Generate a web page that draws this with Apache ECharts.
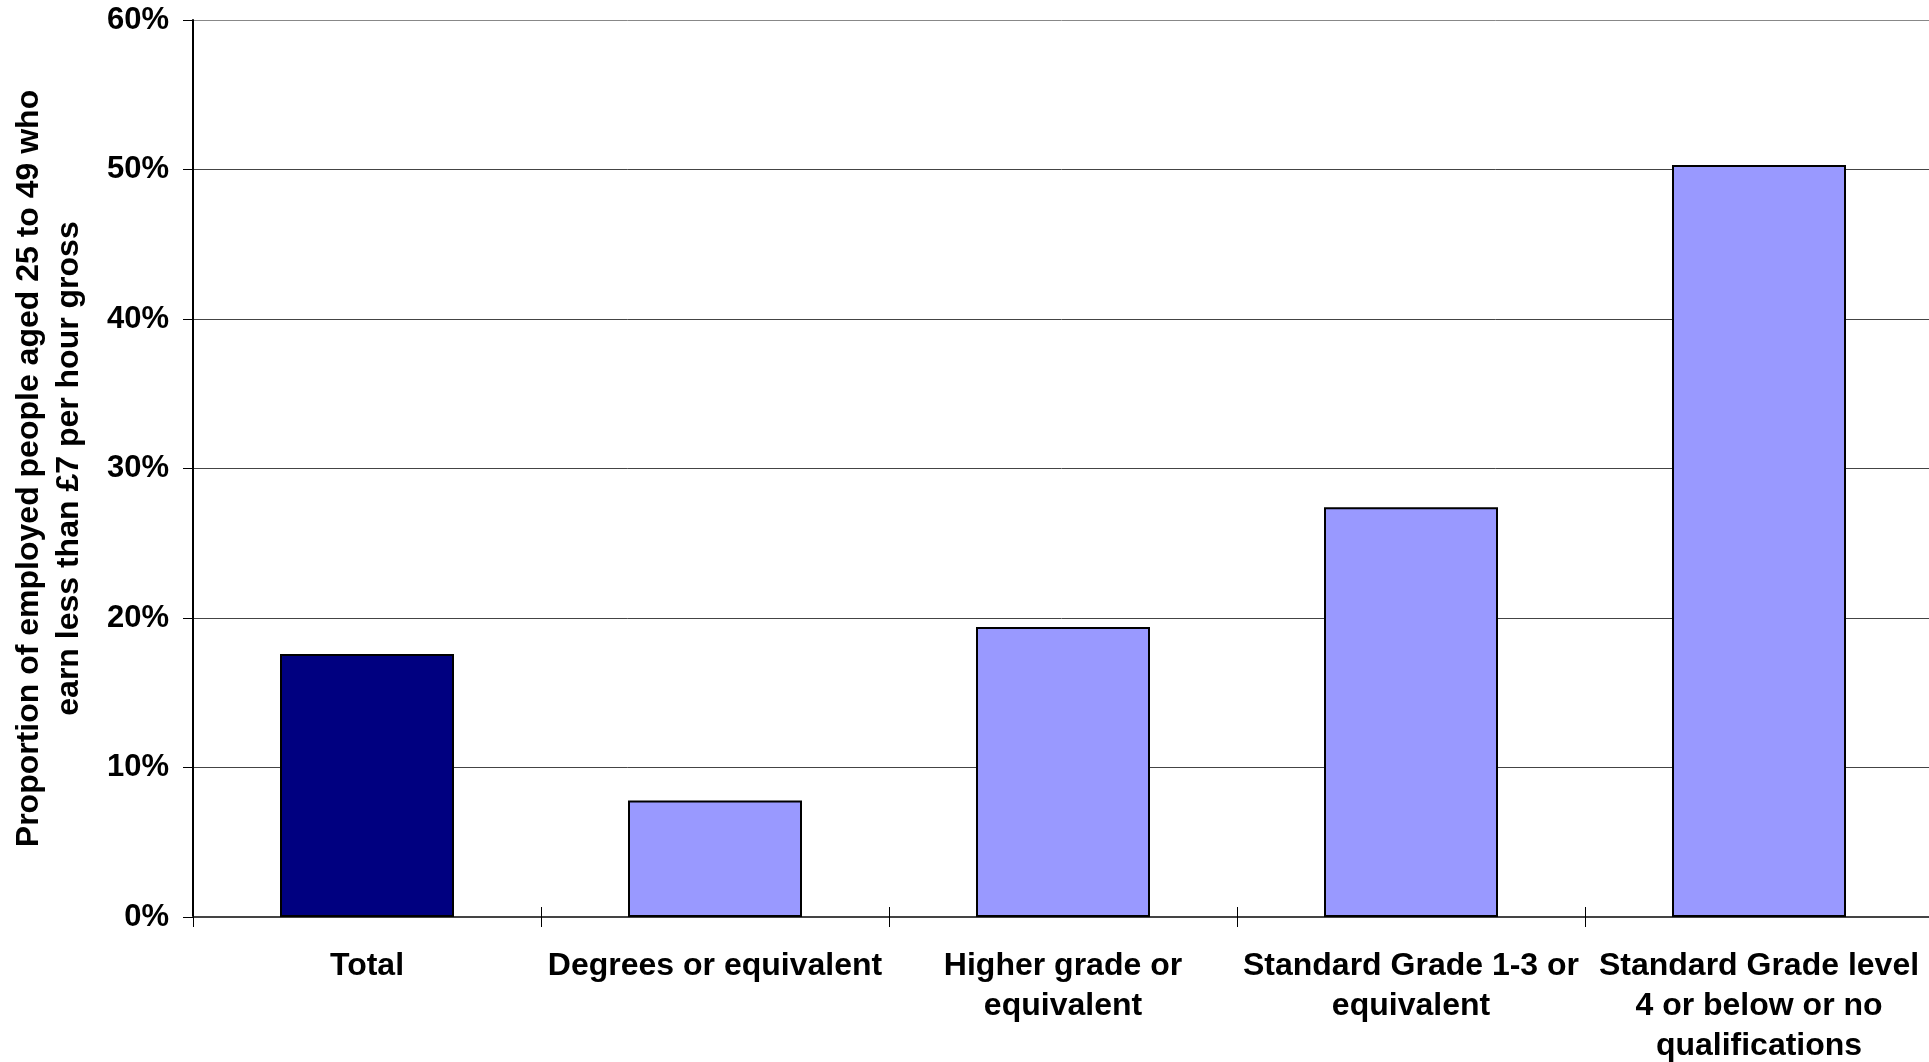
<!DOCTYPE html>
<html>
<head>
<meta charset="utf-8">
<script src="https://cdn.jsdelivr.net/npm/echarts@6/dist/echarts.min.js"></script>
<style>html,body{margin:0;padding:0;background:#fff;}#c{width:1929px;height:1062px;}</style>
</head>
<body>
<div id="c"></div>
<script>
const categories = ["Total", "Degrees or equivalent", "Higher grade or\nequivalent", "Standard Grade 1-3 or\nequivalent", "Standard Grade level\n4 or below or no\nqualifications"];
const values = [17.6, 7.8, 19.4, 27.4, 50.3];
const barColors = ["#000080", "#9999FF", "#9999FF", "#9999FF", "#9999FF"];
const yTicks = [0, 10, 20, 30, 40, 50, 60];

const font = "'Liberation Sans', Arial, sans-serif";
const chart = echarts.init(document.getElementById('c'));
chart.setOption({
  animation: false,
  grid: { left: 193, right: -4, top: 20, bottom: 145, containLabel: false, outerBoundsMode: 'none' },
  xAxis: [{
    type: 'category',
    data: categories,
    axisLine: { lineStyle: { color: '#444', width: 2 } },
    axisTick: { show: true, length: 10, lineStyle: { color: '#000', width: 1 } },
    axisLabel: { interval: 0, fontFamily: font, fontWeight: 'bold', fontSize: 32, color: '#000', lineHeight: 40, margin: 29 }
  }, {
    type: 'category',
    data: categories,
    position: 'bottom',
    axisLine: { show: false },
    axisTick: { show: true, inside: true, length: 10, lineStyle: { color: '#000', width: 1 } },
    axisLabel: { show: false }
  }],
  yAxis: {
    type: 'value',
    min: 0, max: 60, interval: 10,
    name: "Proportion of employed people aged 25 to 49 who\nearn less than £7 per hour gross",
    nameLocation: 'middle',
    nameRotate: 90,
    nameGap: 104,
    nameTextStyle: { fontFamily: font, fontWeight: 'bold', fontSize: 32, color: '#000', lineHeight: 40 },
    axisLine: { show: true, lineStyle: { color: '#000', width: 2 } },
    axisTick: { show: true, length: 10, lineStyle: { color: '#000', width: 1 } },
    axisLabel: { formatter: v => v + '%', fontFamily: font, fontWeight: 'bold', fontSize: 31, color: '#000', margin: 24 },
    splitLine: { show: true, lineStyle: { color: ['#444', '#444', '#444', '#444', '#444', '#444', '#888'], width: 1 } }
  },
  series: [{
    type: 'bar',
    xAxisIndex: 0,
    data: values.map((v, i) => ({ value: v, itemStyle: { color: barColors[i] } })),
    barCategoryGap: '50%',
    itemStyle: { borderColor: '#000', borderWidth: 2 }
  }]
});
</script>
</body>
</html>
